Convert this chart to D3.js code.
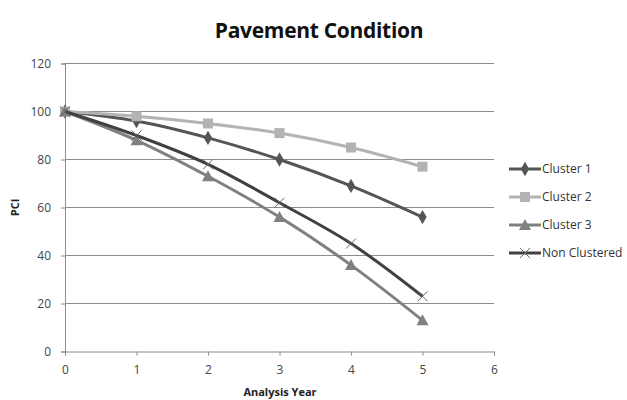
<!DOCTYPE html>
<html>
<head>
<meta charset="utf-8">
<script src="https://cdn.jsdelivr.net/npm/d3@7"></script>
<style>
  html, body { margin: 0; padding: 0; background: #fff; }
  svg { display: block; font-family: "Open Sans", "Noto Sans", sans-serif; }
</style>
</head>
<body>
<svg id="chart" width="627" height="400"></svg>
<script>
// Analysis years on the x axis
const years = [0, 1, 2, 3, 4, 5];

// PCI per series, one value per analysis year
const cluster1 = [100, 96, 89, 80, 69, 56];
const cluster2 = [100, 98, 95, 91, 85, 77];
const cluster3 = [100, 88, 73, 56, 36, 13];
const nonClustered = [100, 90, 78, 62, 45, 23];

const seriesNames = ["Cluster 1", "Cluster 2", "Cluster 3", "Non Clustered"];
const xTicks = [0, 1, 2, 3, 4, 5, 6];
const yTicks = [0, 20, 40, 60, 80, 100, 120];

const series = [
  { name: seriesNames[0], values: cluster1, color: "#555555", marker: "diamond" },
  { name: seriesNames[1], values: cluster2, color: "#b3b3b3", marker: "square" },
  { name: seriesNames[2], values: cluster3, color: "#808080", marker: "triangle" },
  { name: seriesNames[3], values: nonClustered, color: "#404040", marker: "cross" }
];

const svg = d3.select("#chart");
const plot = { left: 65, right: 494, top: 63.5, bottom: 351.5 };

const x = d3.scaleLinear().domain([0, 6]).range([plot.left, plot.right]);
const y = d3.scaleLinear().domain([0, 120]).range([plot.bottom, plot.top]);

// Title
svg.append("text")
  .attr("x", 319).attr("y", 38)
  .attr("text-anchor", "middle")
  .style("font-size", "21px").style("font-weight", "bold")
  .style("letter-spacing", "-0.3px")
  .attr("fill", "#111")
  .text("Pavement Condition");

// Horizontal gridlines
svg.append("g")
  .selectAll("line")
  .data(yTicks.filter(d => d > 0))
  .join("line")
  .attr("x1", plot.left).attr("x2", plot.right)
  .attr("y1", d => y(d)).attr("y2", d => y(d))
  .attr("stroke", "#8c8c8c").attr("stroke-width", 1);

// Y axis
const yAxis = svg.append("g")
  .attr("transform", `translate(${plot.left},0)`)
  .call(d3.axisLeft(y).tickValues(yTicks).tickSize(4).tickPadding(10));
yAxis.select(".domain").attr("stroke", "#8c8c8c");
yAxis.selectAll(".tick line").attr("stroke", "#8c8c8c");
yAxis.selectAll(".tick text").attr("fill", "#444").style("font-size", "12px")
  .style("font-family", "'Open Sans', sans-serif");

// X axis
const xAxis = svg.append("g")
  .attr("transform", `translate(0,${plot.bottom})`)
  .call(d3.axisBottom(x).tickValues(xTicks).tickFormat(d3.format("d")).tickSize(4).tickPadding(10));
xAxis.select(".domain").attr("stroke", "#8c8c8c");
xAxis.selectAll(".tick line").attr("stroke", "#8c8c8c");
xAxis.selectAll(".tick text").attr("fill", "#444").style("font-size", "12px")
  .style("font-family", "'Open Sans', sans-serif");

// Axis titles
svg.append("text")
  .attr("transform", `translate(19,${(plot.top + plot.bottom) / 2}) rotate(-90)`)
  .attr("text-anchor", "middle")
  .style("font-size", "11px").style("font-weight", "bold")
  .attr("fill", "#222")
  .text("PCI");

svg.append("text")
  .attr("x", 280).attr("y", 396)
  .attr("text-anchor", "middle")
  .style("font-size", "11px").style("font-weight", "bold")
  .attr("fill", "#222")
  .text("Analysis Year");

// Marker drawing
function drawMarker(g, type, cx, cy, color) {
  if (type === "diamond") {
    g.append("path")
      .attr("d", d3.symbol(d3.symbolDiamond, 60)())
      .attr("transform", `translate(${cx},${cy})`)
      .attr("fill", color);
  } else if (type === "square") {
    g.append("rect")
      .attr("x", cx - 5).attr("y", cy - 5).attr("width", 10).attr("height", 10)
      .attr("fill", color);
  } else if (type === "triangle") {
    g.append("path")
      .attr("d", `M${cx},${cy - 6}L${cx + 6},${cy + 5}L${cx - 6},${cy + 5}Z`)
      .attr("fill", color);
  } else if (type === "cross") {
    g.append("path")
      .attr("d", `M${cx - 5},${cy - 5}L${cx + 5},${cy + 5}M${cx - 5},${cy + 5}L${cx + 5},${cy - 5}`)
      .attr("stroke", "#666").attr("stroke-width", 1).attr("fill", "none");
  }
}

const line = d3.line()
  .x((d, i) => x(years[i]))
  .y(d => y(d))
  .curve(d3.curveCatmullRom.alpha(0.5));

const lines = svg.append("g");
series.forEach(s => {
  const g = lines.append("g");
  g.append("path")
    .attr("d", line(s.values))
    .attr("fill", "none")
    .attr("stroke", s.color)
    .attr("stroke-width", 3)
    .attr("stroke-linejoin", "round");
  s.values.forEach((v, i) => drawMarker(g, s.marker, x(years[i]), y(v), s.color));
});

// Legend
const legend = svg.append("g");
series.forEach((s, i) => {
  const ly = 169 + i * 28;
  const g = legend.append("g");
  g.append("line")
    .attr("x1", 509).attr("x2", 541)
    .attr("y1", ly).attr("y2", ly)
    .attr("stroke", s.color).attr("stroke-width", 3);
  drawMarker(g, s.marker, 525, ly, s.color);
  g.append("text")
    .attr("x", 542).attr("y", ly + 4)
    .style("font-size", "12px")
    .attr("fill", "#333")
    .text(s.name);
});
</script>
</body>
</html>
